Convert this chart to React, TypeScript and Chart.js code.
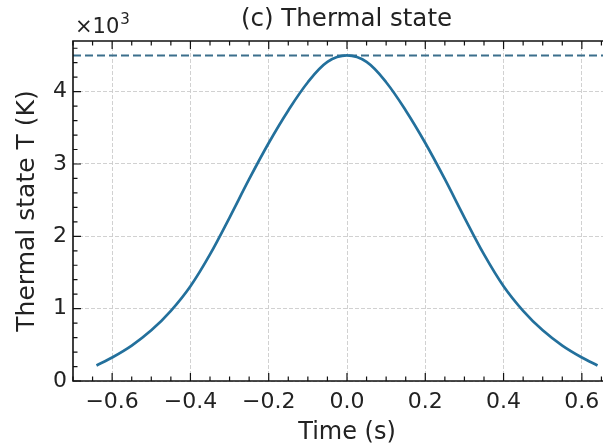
import React, { useEffect, useRef } from "react";
import { Chart, registerables } from "chart.js";

Chart.register(...registerables);

// ---- data ----
const timeS = [-0.64, -0.6, -0.55, -0.5, -0.45, -0.4, -0.35, -0.3, -0.25, -0.2, -0.15, -0.1, -0.05, 0,
  0.05, 0.1, 0.15, 0.2, 0.25, 0.3, 0.35, 0.4, 0.45, 0.5, 0.55, 0.6, 0.64];
const tempK = [215, 325, 490, 700, 970, 1310, 1750, 2260, 2790, 3290, 3740, 4130, 4410, 4500,
  4410, 4130, 3740, 3290, 2790, 2260, 1750, 1310, 970, 700, 490, 325, 215];
const refTemp = 4500;
const refSpan = [-0.7, 0.7];
const xLimits = [-0.7, 0.7];
const yLimits = [0, 4700];
const xTickValues = [-0.6, -0.4, -0.2, 0, 0.2, 0.4, 0.6];
const yTickValues = [0, 1000, 2000, 3000, 4000];
const titleText = "(c) Thermal state";
const xLabel = "Time (s)";
const yLabel = "Thermal state T (K)";
const offsetBase = "\u00d710";
const offsetExp = "3";

const FONT = "'DejaVu Sans', 'Liberation Sans', sans-serif";
const TEXT = "#222222";
const LINE = "#23709c";
const REF = "#3b6f8c";

const fmtX = (v: number) => {
  const s = Math.abs(v).toFixed(1);
  return v < -1e-9 ? "\u2212" + s : s;
};

const framePlugin = {
  id: "frame",
  afterDraw(chart: any) {
    const { ctx, chartArea: a, scales } = chart;
    const xs = scales.x;
    const ys = scales.y;
    ctx.save();
    ctx.strokeStyle = "#111111";
    ctx.lineWidth = 1.2;
    ctx.beginPath();
    for (let k = -14; k <= 14; k++) {
      const px = xs.getPixelForValue(k * 0.05);
      const len = k % 4 === 0 ? 8 : 4.5;
      ctx.moveTo(px, a.bottom);
      ctx.lineTo(px, a.bottom - len);
      ctx.moveTo(px, a.top);
      ctx.lineTo(px, a.top + len);
    }
    for (let k = 0; k <= 23; k++) {
      const py = ys.getPixelForValue(k * 200);
      const len = k % 5 === 0 ? 8 : 4.5;
      ctx.moveTo(a.left, py);
      ctx.lineTo(a.left + len, py);
      ctx.moveTo(a.right, py);
      ctx.lineTo(a.right - len, py);
    }
    ctx.stroke();
    ctx.lineWidth = 1.6;
    ctx.beginPath();
    ctx.rect(a.left, a.top, a.right - a.left, a.bottom - a.top);
    ctx.stroke();
    // offset text ×10^3
    ctx.fillStyle = TEXT;
    ctx.textBaseline = "alphabetic";
    ctx.textAlign = "left";
    ctx.font = `21px ${FONT}`;
    const bx = a.left + 2;
    const by = a.top - 8;
    ctx.fillText(offsetBase, bx, by);
    const w = ctx.measureText(offsetBase).width;
    ctx.font = `15px ${FONT}`;
    ctx.fillText(offsetExp, bx + w + 1, by - 9);
    ctx.restore();
  },
};

export default function App() {
  const ref = useRef<HTMLCanvasElement | null>(null);
  useEffect(() => {
    document.body.style.margin = "0";
    const canvas = ref.current;
    if (!canvas) return;
    const chart = new Chart(canvas, {
      type: "line",
      data: {
        datasets: [
          {
            data: timeS.map((t, i) => ({ x: t, y: tempK[i] })),
            borderColor: LINE,
            borderWidth: 2.7,
            pointRadius: 0,
            tension: 0.35,
            fill: false,
            order: 1,
          },
          {
            data: refSpan.map((t) => ({ x: t, y: refTemp })),
            borderColor: REF,
            borderWidth: 2,
            borderDash: [8, 4],
            pointRadius: 0,
            fill: false,
            order: 2,
          },
        ],
      },
      options: {
        responsive: false,
        animation: false,
        devicePixelRatio: 1,
        layout: { padding: 0 },
        plugins: {
          legend: { display: false },
          tooltip: { enabled: false },
          title: {
            display: true,
            text: titleText,
            color: TEXT,
            font: { family: FONT, size: 24.5, weight: "normal" },
            padding: { top: 5, bottom: 6.6 },
          },
        },
        scales: {
          x: {
            type: "linear",
            position: "bottom",
            min: xLimits[0],
            max: xLimits[1],
            afterBuildTicks: (s: any) => {
              s.ticks = xTickValues.map((v) => ({ value: v }));
            },
            afterFit: (s: any) => {
              s.height = 66;
            },
            grid: { color: "#cccccc", lineWidth: 0.9, drawTicks: false, tickLength: 0 },
            border: { display: false, dash: [4, 2] },
            ticks: {
              color: TEXT,
              font: { family: FONT, size: 22 },
              padding: 8,
              maxRotation: 0,
              autoSkip: false,
              callback: (v: any) => fmtX(Number(v)),
            },
            title: {
              display: true,
              text: xLabel,
              color: TEXT,
              font: { family: FONT, size: 24 },
              padding: { top: 0, bottom: 0 },
            },
          },
          y: {
            type: "linear",
            position: "left",
            min: yLimits[0],
            max: yLimits[1],
            afterBuildTicks: (s: any) => {
              s.ticks = yTickValues.map((v) => ({ value: v }));
            },
            afterFit: (s: any) => {
              s.width = 73;
            },
            grid: { color: "#cccccc", lineWidth: 0.9, drawTicks: false, tickLength: 0 },
            border: { display: false, dash: [4, 2] },
            ticks: {
              color: TEXT,
              font: { family: FONT, size: 22 },
              padding: 6,
              autoSkip: false,
              callback: (v: any) => String(Math.round(Number(v) / 1000)),
            },
            title: {
              display: true,
              text: yLabel,
              color: TEXT,
              font: { family: FONT, size: 25 },
              padding: { top: 12, bottom: 0 },
            },
          },
          y2: {
            type: "linear",
            position: "right",
            display: true,
            ticks: { display: false },
            grid: { display: false },
            border: { display: false },
            afterFit: (s: any) => {
              s.width = 72;
            },
          },
        },
      } as any,
      plugins: [framePlugin],
    });
    return () => chart.destroy();
  }, []);
  return (
    <div style={{ position: "absolute", left: 0, top: 0, width: 603, height: 447, overflow: "hidden", background: "#fff" }}>
      <canvas ref={ref} width={693} height={447} style={{ display: "block" }} />
    </div>
  );
}
